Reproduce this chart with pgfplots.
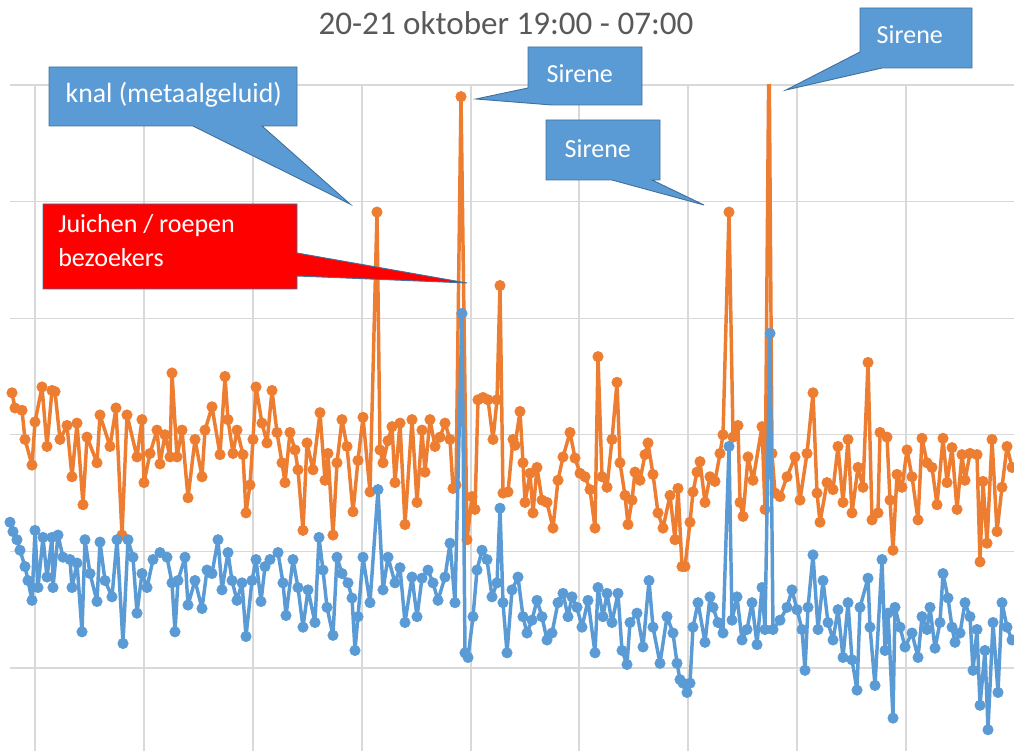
\documentclass[border=0pt]{standalone}
\usepackage{fontspec}
\setmainfont{Carlito}
\usepackage{pgfplots}
\pgfplotsset{compat=1.18}

\definecolor{xlorange}{RGB}{237,125,49}
\definecolor{xlblue}{RGB}{91,155,213}
\definecolor{xlborder}{RGB}{65,113,156}
\definecolor{gridgray}{RGB}{217,217,217}
\definecolor{titlegray}{RGB}{89,89,89}

% x = position along the night (sample), y = level (dB)
\begin{document}
\begin{tikzpicture}
\useasboundingbox (-7.5pt,0pt) rectangle (753pt,563.25pt);
\begin{axis}[
    at={(0,0)}, anchor=south west,
    scale only axis,
    width=753pt, height=499.5pt,
    xmin=10, xmax=1014,
    ymin=22.88, ymax=80,
    xtick={35,144,253,362,471,579,688,797,906},
    ytick={30,40,50,60,70,80},
    xticklabels={}, yticklabels={},
    major tick length=0pt,
    grid=major,
    grid style={color=gridgray, line width=0.9pt},
    axis line style={draw=none},
    clip mode=individual,
]
% orange series
\addplot[color=xlorange, line width=2.6pt, line join=round, mark=*, mark size=3.9pt,
  mark options={solid, fill=xlorange, draw=xlorange, line width=0.5pt}] coordinates {
(12,53.6) (15,52.3) (22,52.1) (25,49.6) (32,47.4) (35,51.1) (42,54.1) (47,49.0)
(52,53.8) (55,53.7) (60,49.6) (67,50.8) (72,46.4) (77,51.0) (83,44.0) (87,49.8)
(97,47.6) (100,51.7) (110,49.0) (116,52.3) (122,41.4) (127,51.7) (137,48.1) (142,51.3)
(144,45.9) (150,48.4) (157,50.4) (160,47.5) (165,50.0) (170,48.1) (172,55.3) (177,48.1)
(182,50.4) (188,44.6) (195,49.6) (202,46.4) (205,50.4) (212,52.4) (220,48.3) (225,55.0)
(228,51.3) (233,48.4) (237,50.4) (243,48.3) (246,43.3) (250,45.7) (253,49.6) (256,54.1)
(262,51.0) (267,49.3) (272,53.8) (277,50.2) (282,47.6) (285,45.9) (290,50.2) (295,48.7)
(298,47.0) (303,41.8) (307,49.3) (313,47.0) (320,51.9) (325,46.1) (328,48.4) (333,41.4)
(337,47.6) (342,51.3) (347,49.0) (353,43.4) (358,47.8) (363,51.5) (370,45.1) (377,69.1)
(380,48.7) (383,47.6) (388,49.5) (392,50.7) (395,45.9) (400,51.0) (405,42.3) (412,51.3)
(417,44.2) (422,50.4) (425,46.8) (430,51.3) (435,49.0) (440,49.8) (445,51.0) (450,49.6)
(453,45.4) (456,45.7) (461,79.0) (467,41.0) (472,44.7) (475,43.6) (478,53.0) (483,53.2)
(488,53.0) (493,49.6) (497,53.0) (500,62.8) (503,45.0) (508,45.1) (513,49.6) (515,49.1)
(520,52.0) (523,47.6) (525,44.2) (530,46.7) (533,43.3) (537,47.2) (542,44.4) (547,44.2)
(553,42.0) (558,46.1) (563,48.1) (570,50.2) (575,48.0) (580,46.7) (585,46.4) (590,45.3)
(595,42.0) (598,56.7) (602,46.4) (607,45.5) (612,49.6) (617,54.5) (620,47.6) (625,44.8)
(628,42.3) (632,44.4) (635,46.8) (640,46.1) (645,48.3) (648,49.3) (653,46.6) (658,43.3)
(663,42.0) (670,44.8) (675,41.0) (678,45.4) (682,38.7) (685,38.7) (690,42.5) (693,45.1)
(697,46.8) (700,47.7) (705,44.2) (710,46.4) (715,46.0) (720,48.4) (723,50.0) (729,69.1)
(733,49.8) (738,50.8) (740,44.2) (743,43.0) (748,48.1) (753,46.1) (762,50.7) (765,43.6)
(769,84.0) (772,48.4) (775,45.0) (780,44.7) (787,46.4) (795,48.1) (800,44.4) (807,48.4)
(813,53.6) (817,45.0) (820,42.5) (827,45.9) (833,45.3) (838,49.0) (843,44.2) (848,49.6)
(852,43.3) (858,47.2) (863,45.5) (868,56.2) (872,42.7) (878,43.3) (880,50.2) (887,49.8)
(890,44.4) (893,40.1) (897,46.6) (902,45.5) (907,48.7) (912,46.4) (918,42.7) (922,49.7)
(927,47.6) (932,47.2) (937,44.0) (943,49.7) (947,45.9) (952,48.9) (957,43.6) (962,48.3)
(965,46.1) (970,48.4) (977,48.3) (980,39.1) (983,46.0) (987,40.7) (992,49.6) (997,41.7)
(1002,45.5) (1007,49.0) (1012,47.2)
};
% blue series
\addplot[color=xlblue, line width=2.6pt, line join=round, mark=*, mark size=3.9pt,
  mark options={solid, fill=xlblue, draw=xlblue, line width=0.5pt}] coordinates {
(10,42.5) (13,41.7) (17,41.0) (20,40.1) (25,38.7) (28,37.5) (32,35.8) (35,41.8)
(38,36.9) (43,41.2) (47,37.8) (52,41.2) (53,36.9) (58,41.4) (63,39.5) (70,39.3)
(72,36.9) (77,39.0) (82,33.1) (85,41.0) (90,38.1) (97,35.7) (100,40.8) (105,37.5)
(112,36.1) (117,41.0) (123,32.1) (128,41.0) (133,39.5) (137,34.7) (142,38.1) (147,36.9)
(153,39.3) (160,39.9) (167,39.5) (172,37.3) (175,33.1) (178,37.5) (185,39.5) (188,35.4)
(195,37.5) (202,35.1) (207,38.4) (212,38.1) (218,41.0) (222,36.7) (228,39.9) (232,37.5)
(237,35.8) (242,37.3) (246,32.7) (252,37.5) (256,39.3) (261,35.7) (265,38.7) (270,39.3)
(278,39.9) (283,37.3) (286,34.5) (293,39.3) (298,36.9) (303,33.5) (308,36.7) (315,33.9)
(319,41.2) (323,38.4) (327,35.2) (333,32.8) (337,39.5) (342,38.1) (348,37.3) (352,36.0)
(355,31.5) (358,34.4) (363,39.5) (370,35.6) (378,45.3) (383,36.7) (388,39.5) (395,37.3)
(400,38.6) (405,33.9) (412,37.8) (417,34.4) (422,37.7) (428,38.4) (433,37.3) (438,35.8)
(445,37.8) (450,40.7) (455,35.6) (462,60.4) (465,31.3) (468,30.9) (473,34.4) (477,38.4)
(482,40.1) (487,39.3) (492,36.1) (497,37.3) (500,43.7) (503,35.6) (507,31.3) (512,36.7)
(518,37.8) (523,34.4) (527,33.0) (532,34.1) (537,35.8) (542,34.4) (547,32.4) (552,33.0)
(558,35.6) (563,36.4) (568,34.4) (572,36.1) (577,35.2) (582,33.5) (588,35.8) (595,31.3)
(598,36.9) (603,34.4) (607,36.4) (612,33.9) (618,36.4) (622,31.5) (627,30.3) (630,33.9)
(637,34.7) (643,31.8) (649,37.5) (653,33.5) (660,30.4) (667,34.4) (673,33.0) (677,30.4)
(680,29.0) (683,28.7) (687,27.9) (690,28.7) (693,33.5) (698,35.6) (705,32.2) (710,36.1)
(713,35.2) (718,33.9) (723,33.0) (729,49.0) (732,34.1) (737,36.1) (742,32.4) (747,33.3)
(752,35.6) (757,32.0) (762,36.9) (765,33.3) (770,58.7) (773,33.3) (780,34.1) (787,35.2)
(792,36.7) (797,35.0) (802,33.3) (805,29.8) (808,35.2) (813,39.7) (818,33.3) (823,37.5)
(828,33.9) (833,32.4) (838,35.0) (843,30.9) (848,35.6) (852,30.7) (857,28.1) (860,35.2)
(868,37.7) (870,33.5) (875,28.5) (882,39.3) (885,31.5) (888,34.7) (893,25.7) (895,35.2)
(900,33.5) (905,31.8) (912,33.0) (918,30.9) (922,34.4) (927,33.3) (930,35.2) (935,31.7)
(940,33.9) (943,38.1) (948,36.0) (952,33.5) (955,32.2) (960,33.0) (965,35.6) (970,34.4)
(973,29.8) (977,33.3) (980,26.8) (985,31.5) (988,24.7) (993,33.9) (998,27.9) (1002,35.6)
(1007,33.5) (1012,32.4)
};
\end{axis}

% title and callouts, in picture pixels (origin top left)
\begin{scope}[shift={(-7.5pt,563.25pt)}, x=0.75pt, y=-0.75pt]
\node[text=titlegray, font=\fontsize{24.8}{29}\selectfont, anchor=center] at (506,23) {20-21 oktober 19:00 - 07:00};

\fill[xlblue, draw=xlborder, line width=0.7pt]
  (49,67) -- (297,67) -- (297,126) -- (262,126) -- (350,204) -- (193,126) -- (49,126) -- cycle;
\node[text=white, font=\fontsize{20.8}{24}\selectfont, anchor=west] at (61,95) {knal (metaalgeluid)};

\fill[red, draw=xlborder, line width=0.7pt]
  (43,204) -- (297,204) -- (297,253) -- (467,283) -- (297,276) -- (297,289) -- (43,289) -- cycle;
\node[text=white, font=\fontsize{19.5}{26}\selectfont, anchor=north west, align=left, inner sep=0pt] at (58,214) {Juichen / roepen\\bezoekers};

\fill[xlblue, draw=xlborder, line width=0.7pt]
  (528,47) -- (642,47) -- (642,105) -- (552,105) -- (476,99) -- (528,88) -- cycle;
\node[text=white, font=\fontsize{19.5}{24}\selectfont, anchor=west] at (542,74) {Sirene};

\fill[xlblue, draw=xlborder, line width=0.7pt]
  (546,120) -- (660,120) -- (660,180) -- (652,180) -- (704,205) -- (612,180) -- (546,180) -- cycle;
\node[text=white, font=\fontsize{19.5}{24}\selectfont, anchor=west] at (560,149) {Sirene};

\fill[xlblue, draw=xlborder, line width=0.7pt]
  (860,8) -- (972,8) -- (972,68) -- (882,68) -- (786,90) -- (860,52) -- cycle;
\node[text=white, font=\fontsize{19.5}{24}\selectfont, anchor=west] at (872,35) {Sirene};
\end{scope}
\end{tikzpicture}
\end{document}
